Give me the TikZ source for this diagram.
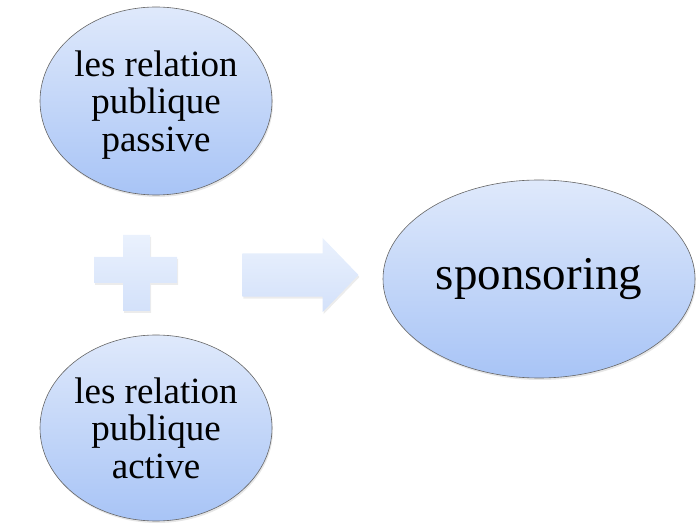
\documentclass[tikz,border=0pt]{standalone}
\usepackage{fontspec}
\setmainfont{Liberation Serif}
\usetikzlibrary{shapes.geometric,shapes.arrows,shadows}

\definecolor{bubbletop}{HTML}{DFE9FB}
\definecolor{bubblebot}{HTML}{A8C4F6}
\definecolor{signtop}{HTML}{EAF1FD}
\definecolor{signbot}{HTML}{D3E1FA}

\begin{document}
\begin{tikzpicture}[x=1pt,y=-1pt,
  bubble/.style={ellipse, draw=black!60, line width=0.6pt,
    top color=bubbletop, bottom color=bubblebot, align=center, inner sep=0pt,
    drop shadow={shadow xshift=1pt, shadow yshift=-2pt, opacity=0.2}},
  sign/.style={top color=signtop, bottom color=signbot, draw=none,
    drop shadow={shadow xshift=1pt, shadow yshift=-2pt, opacity=0.15}},
  small/.style={font=\fontsize{37}{37.5}\selectfont, text depth=0pt},
  big/.style={font=\fontsize{47}{54}\selectfont}]

\useasboundingbox (0,0) rectangle (696,526);

% the two kinds of public relations
\node[bubble, small, minimum width=232pt, minimum height=188pt] (passive) at (156,101)
  {les relation\\publique\\passive};
\node[bubble, small, minimum width=232pt, minimum height=186pt] (active) at (156,428)
  {les relation\\publique\\active};

% result
\node[bubble, big, minimum width=312pt, minimum height=198pt] (sponsoring) at (539,279)
  {sponsoring};

% plus sign
\path[sign] (123,235) -- (150,235) -- (150,257) -- (177,257) -- (177,283) -- (150,283)
  -- (150,311) -- (123,311) -- (123,283) -- (94,283) -- (94,257) -- (123,257) -- cycle;

% arrow
\node[single arrow, sign, minimum width=74pt, minimum height=116pt,
  single arrow head extend=15.5pt, single arrow tip angle=92,
  inner xsep=0pt, inner ysep=21.5pt]
  (arrow) at (290,275) {};

\end{tikzpicture}
\end{document}
